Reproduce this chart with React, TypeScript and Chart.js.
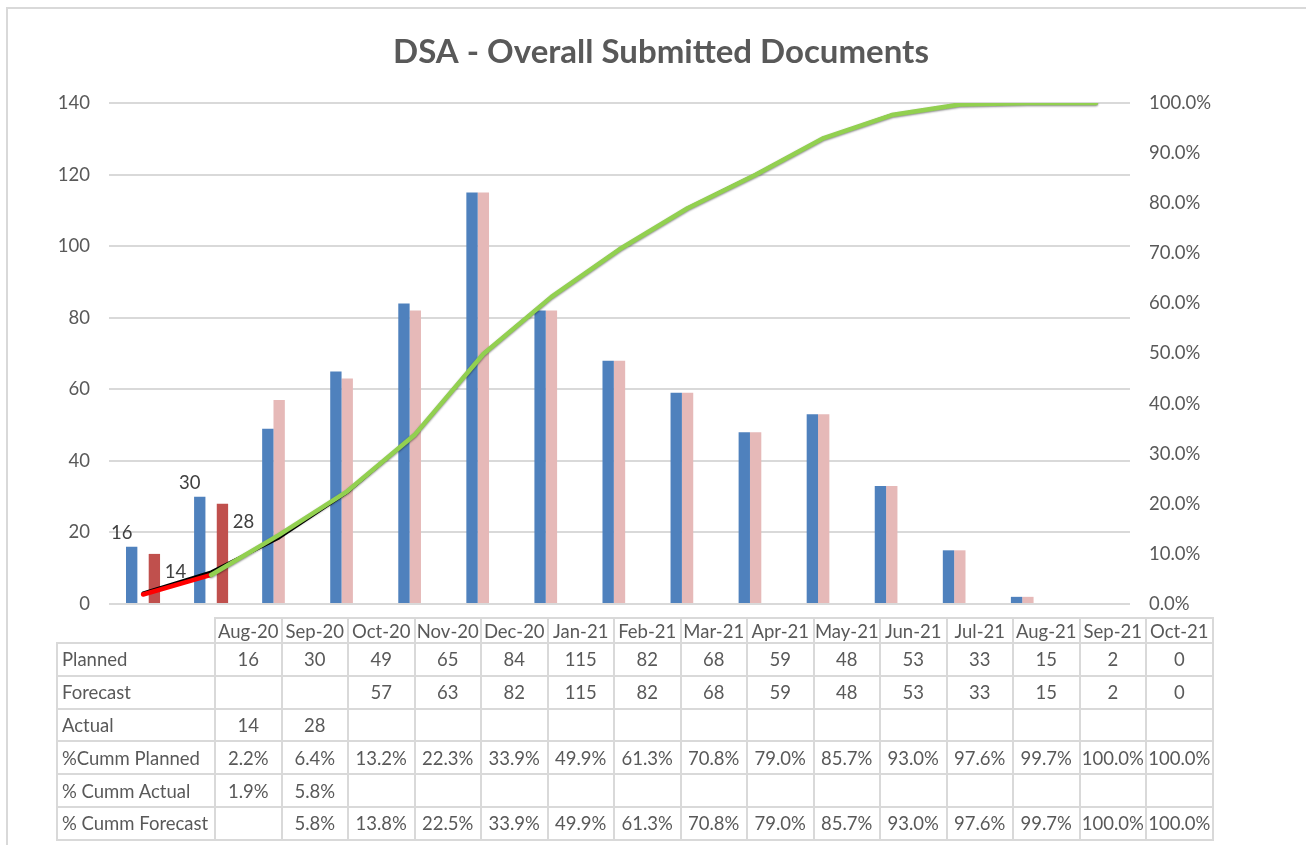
import React, { useEffect, useRef } from "react";
import { Chart, registerables } from "chart.js";

Chart.register(...registerables);

const months = ["Aug-20", "Sep-20", "Oct-20", "Nov-20", "Dec-20", "Jan-21", "Feb-21", "Mar-21", "Apr-21", "May-21", "Jun-21", "Jul-21", "Aug-21", "Sep-21", "Oct-21"];
const planned: (number | null)[] = [16, 30, 49, 65, 84, 115, 82, 68, 59, 48, 53, 33, 15, 2, 0];
const forecast: (number | null)[] = [null, null, 57, 63, 82, 115, 82, 68, 59, 48, 53, 33, 15, 2, 0];
const actual: (number | null)[] = [14, 28, null, null, null, null, null, null, null, null, null, null, null, null, null];
const cummPlanned: (number | null)[] = [2.2, 6.4, 13.2, 22.3, 33.9, 49.9, 61.3, 70.8, 79.0, 85.7, 93.0, 97.6, 99.7, 100.0, 100.0];
const cummActual: (number | null)[] = [1.9, 5.8, null, null, null, null, null, null, null, null, null, null, null, null, null];
const cummForecast: (number | null)[] = [null, 5.8, 13.8, 22.5, 33.9, 49.9, 61.3, 70.8, 79.0, 85.7, 93.0, 97.6, 99.7, 100.0, 100.0];

const countMax = 140;
const countStep = 20;
const pctMax = 100;
const pctStep = 10;

const TITLE = "DSA - Overall Submitted Documents";
const FONT = "Lato, 'Open Sans', sans-serif";
const TEXT = "#595959";
const GRID = "#d9d9d9";

const fmtPct = (v: number | null) => (v == null ? "" : v.toFixed(1) + "%");
const fmtNum = (v: number | null) => (v == null ? "" : String(v));

const tableRows: { label: string; cells: string[] }[] = [
  { label: "Planned", cells: planned.map(fmtNum) },
  { label: "Forecast", cells: forecast.map(fmtNum) },
  { label: "Actual", cells: actual.map(fmtNum) },
  { label: "%Cumm Planned", cells: cummPlanned.map(fmtPct) },
  { label: "% Cumm Actual", cells: cummActual.map(fmtPct) },
  { label: "% Cumm Forecast", cells: cummForecast.map(fmtPct) },
];

const shadowPlugin = {
  id: "lineShadow",
  beforeDatasetDraw(chart: any, args: any) {
    if (chart.data.datasets[args.index].label === "% Cumm Forecast") {
      const ctx = chart.ctx;
      ctx.save();
      ctx.shadowColor = "rgba(0,0,0,0.45)";
      ctx.shadowBlur = 2;
      ctx.shadowOffsetX = 0;
      ctx.shadowOffsetY = 1;
    }
  },
  afterDatasetDraw(chart: any, args: any) {
    if (chart.data.datasets[args.index].label === "% Cumm Forecast") {
      chart.ctx.restore();
    }
  },
};

const labelPlugin = {
  id: "barLabels",
  afterDatasetsDraw(chart: any) {
    const ctx = chart.ctx;
    const pm = chart.getDatasetMeta(0);
    const am = chart.getDatasetMeta(2);
    ctx.save();
    ctx.font = `18.5px ${FONT}`;
    ctx.fillStyle = "#404040";
    ctx.textAlign = "center";
    ctx.textBaseline = "middle";
    actual.forEach((v, i) => {
      if (v == null) return;
      const pb = pm.data[i];
      if (pb && planned[i] != null) ctx.fillText(String(planned[i]), pb.x - 10, pb.y - 14);
      const ab = am.data[i];
      if (ab) ctx.fillText(String(v), ab.x + 21, ab.y + 18);
    });
    ctx.restore();
  },
};

function ChartCanvas() {
  const ref = useRef<HTMLCanvasElement | null>(null);
  useEffect(() => {
    if (!ref.current) return;
    const chart = new Chart(ref.current, {
      type: "bar",
      data: {
        labels: months,
        datasets: [
          { type: "bar", label: "Planned", data: planned, backgroundColor: "#4F81BD", yAxisID: "y", order: 10 },
          { type: "bar", label: "Forecast", data: forecast, backgroundColor: "#E6B9B8", yAxisID: "y", order: 11 },
          { type: "bar", label: "Actual", data: actual, backgroundColor: "#C0504D", yAxisID: "y", order: 12 },
          {
            type: "line", label: "%Cumm Planned", data: cummPlanned, yAxisID: "y1", order: 3,
            borderColor: "#000000", borderWidth: 3, pointRadius: 0, tension: 0, fill: false,
            borderCapStyle: "round", borderJoinStyle: "round",
          },
          {
            type: "line", label: "% Cumm Actual", data: cummActual, yAxisID: "y1", order: 2,
            borderColor: "#FF0000", borderWidth: 4.5, pointRadius: 0, tension: 0, fill: false,
            borderCapStyle: "round", borderJoinStyle: "round",
          },
          {
            type: "line", label: "% Cumm Forecast", data: cummForecast, yAxisID: "y1", order: 1,
            borderColor: "#92D050", borderWidth: 4.5, pointRadius: 0, tension: 0, fill: false,
            borderCapStyle: "round", borderJoinStyle: "round",
          },
        ],
      } as any,
      options: {
        responsive: false,
        animation: false,
        events: [],
        layout: { padding: { left: 16, right: 0, top: 0, bottom: 241 } },
        datasets: { bar: { categoryPercentage: 0.5, barPercentage: 1.0 } } as any,
        plugins: {
          legend: { display: false },
          tooltip: { enabled: false },
          title: {
            display: true,
            text: TITLE,
            color: TEXT,
            font: { family: FONT, size: 33, weight: "bold", lineHeight: 1.2 },
            padding: { top: 33, bottom: 30.4 },
          },
        },
        scales: {
          x: { type: "category", display: false, offset: true },
          y: {
            type: "linear",
            position: "left",
            min: 0,
            max: countMax,
            ticks: { stepSize: countStep, color: TEXT, font: { family: FONT, size: 18.5 }, padding: 19 },
            grid: { color: GRID, lineWidth: 2, drawTicks: false },
            border: { display: false },
            afterFit: (s: any) => { s.width = 93; },
          },
          y1: {
            type: "linear",
            position: "right",
            min: 0,
            max: pctMax,
            ticks: {
              stepSize: pctStep, color: TEXT, font: { family: FONT, size: 18.5 }, padding: 19,
              callback: (v: any) => Number(v).toFixed(1) + "%",
            },
            grid: { drawOnChartArea: false, drawTicks: false },
            border: { display: false },
            afterFit: (s: any) => { s.width = 176; },
          },
        },
      } as any,
      plugins: [shadowPlugin, labelPlugin],
    });
    return () => chart.destroy();
  }, []);
  return <canvas ref={ref} width={1306} height={845} style={{ display: "block", position: "absolute", left: 0, top: 0 }} />;
}

const cellBorder = `2px solid ${GRID}`;

function DataTable() {
  const labelW = 158;
  const colW = 66.5;
  const baseCell: React.CSSProperties = {
    border: cellBorder,
    padding: 0,
    color: TEXT,
    fontFamily: FONT,
    fontSize: "18.5px",
    whiteSpace: "nowrap",
    overflow: "hidden",
  };
  return (
    <table
      style={{
        position: "absolute",
        left: 56,
        top: 617,
        borderCollapse: "collapse",
        tableLayout: "fixed",
        width: labelW + colW * months.length,
      }}
    >
      <colgroup>
        <col style={{ width: labelW }} />
        {months.map((m) => (
          <col key={m} style={{ width: colW }} />
        ))}
      </colgroup>
      <tbody>
        <tr style={{ height: 25 }}>
          <td style={{ ...baseCell, border: "none" }}></td>
          {months.map((m) => (
            <td key={m} style={{ ...baseCell, textAlign: "center" }}>{m}</td>
          ))}
        </tr>
        {tableRows.map((r) => (
          <tr key={r.label} style={{ height: 32.8 }}>
            <td style={{ ...baseCell, textAlign: "left", paddingLeft: 4 }}>{r.label}</td>
            {r.cells.map((c, i) => (
              <td key={i} style={{ ...baseCell, textAlign: "center" }}>{c}</td>
            ))}
          </tr>
        ))}
      </tbody>
    </table>
  );
}

export default function App() {
  return (
    <div style={{ position: "fixed", left: 0, top: 0, width: 1306, height: 845, overflow: "hidden", background: "#fff" }}>
      <div style={{ position: "absolute", left: 6, top: 7, width: 1400, height: 1000, border: `2px solid ${GRID}` }} />
      <ChartCanvas />
      <DataTable />
    </div>
  );
}
